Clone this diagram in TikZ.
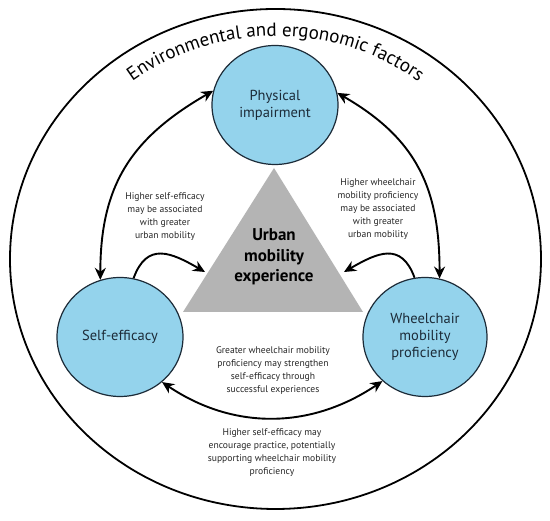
\documentclass[tikz,border=0pt]{standalone}
\usepackage{fontspec}
\setmainfont{PT Sans}
\usetikzlibrary{shapes.geometric,arrows.meta,decorations.text,calc}
\definecolor{circfill}{HTML}{94D3EC}
\definecolor{circline}{HTML}{1C2B38}
\definecolor{trigray}{HTML}{B4B4B4}
\definecolor{labeltext}{HTML}{262626}
\begin{document}
\begin{tikzpicture}[x=1pt,y=1pt,
  factor/.style={ellipse, draw=circline, line width=1.2pt, fill=circfill, inner sep=0pt,
    minimum width=126pt, minimum height=119pt, align=center, text=circline,
    font=\fontsize{14.5}{17}\selectfont},
  note/.style={align=center, text=labeltext, font=\fontsize{9.6}{13}\selectfont, inner sep=0pt},
  link/.style={line width=1.9pt, -{Stealth[length=12pt,width=11pt]}},
  both/.style={line width=1.9pt, {Stealth[length=12pt,width=11pt]}-{Stealth[length=12pt,width=11pt]}}
]
\useasboundingbox (0,0) rectangle (550,521);
\fill[white] (0,0) rectangle (550,521);
% outer frame
\node[ellipse, draw=black, line width=1.8pt, minimum width=531pt, minimum height=500pt, inner sep=0pt] (outer) at (275.5,262) {};
\path[decorate, decoration={text along path, text align=center,
   text={|\fontsize{19}{21}\selectfont|Environmental and ergonomic factors}}]
  ($(275.5,262)+(131:236 and 223)$) arc[start angle=131, end angle=49, x radius=236, y radius=223];
% triangle
\coordinate (tA) at (274,353);
\coordinate (tB) at (183,209);
\coordinate (tC) at (363,209);
\fill[trigray] (tA) -- (tB) -- (tC) -- cycle;
\node[align=center, font=\bfseries\fontsize{17}{20.5}\selectfont, text=black] (ume) at (274,264) {Urban\\mobility\\experience};
% factor circles
\node[factor] (phys) at (275,416) {Physical\\impairment};
\node[factor] (self) at (120,184) {Self-efficacy};
\node[factor, minimum width=124pt] (wheel) at (425,184) {Wheelchair\\mobility\\proficiency};
% arrow targets on the triangle
\coordinate (tipL) at (205,249);
\coordinate (tipR) at (344,249);
% connectors
\draw[both] (phys.167) to[out=210, in=90, looseness=1.1] (self.109);
\draw[both] (phys.11) to[out=-30, in=90, looseness=1.1] (wheel.76);
\draw[link] (self.77) to[out=70, in=150, looseness=1.4] (tipL);
\draw[link] (wheel.100) to[out=110, in=30, looseness=1.4] (tipR);
\draw[both] (self.-47) to[out=-34, in=-146] (wheel.226);
% labels
\node[note] (n1) at (165,304) {Higher self-efficacy\\may be associated\\with greater\\urban mobility};
\node[note] (n2) at (378,312) {Higher wheelchair\\mobility proficiency\\may be associated\\with greater\\urban mobility};
\node[note] (n3) at (273,150) {Greater wheelchair mobility\\proficiency may strengthen\\self-efficacy through\\successful experiences};
\node[note] (n4) at (272,68) {Higher self-efficacy may\\encourage practice, potentially\\supporting wheelchair mobility\\proficiency};
\end{tikzpicture}
\end{document}
